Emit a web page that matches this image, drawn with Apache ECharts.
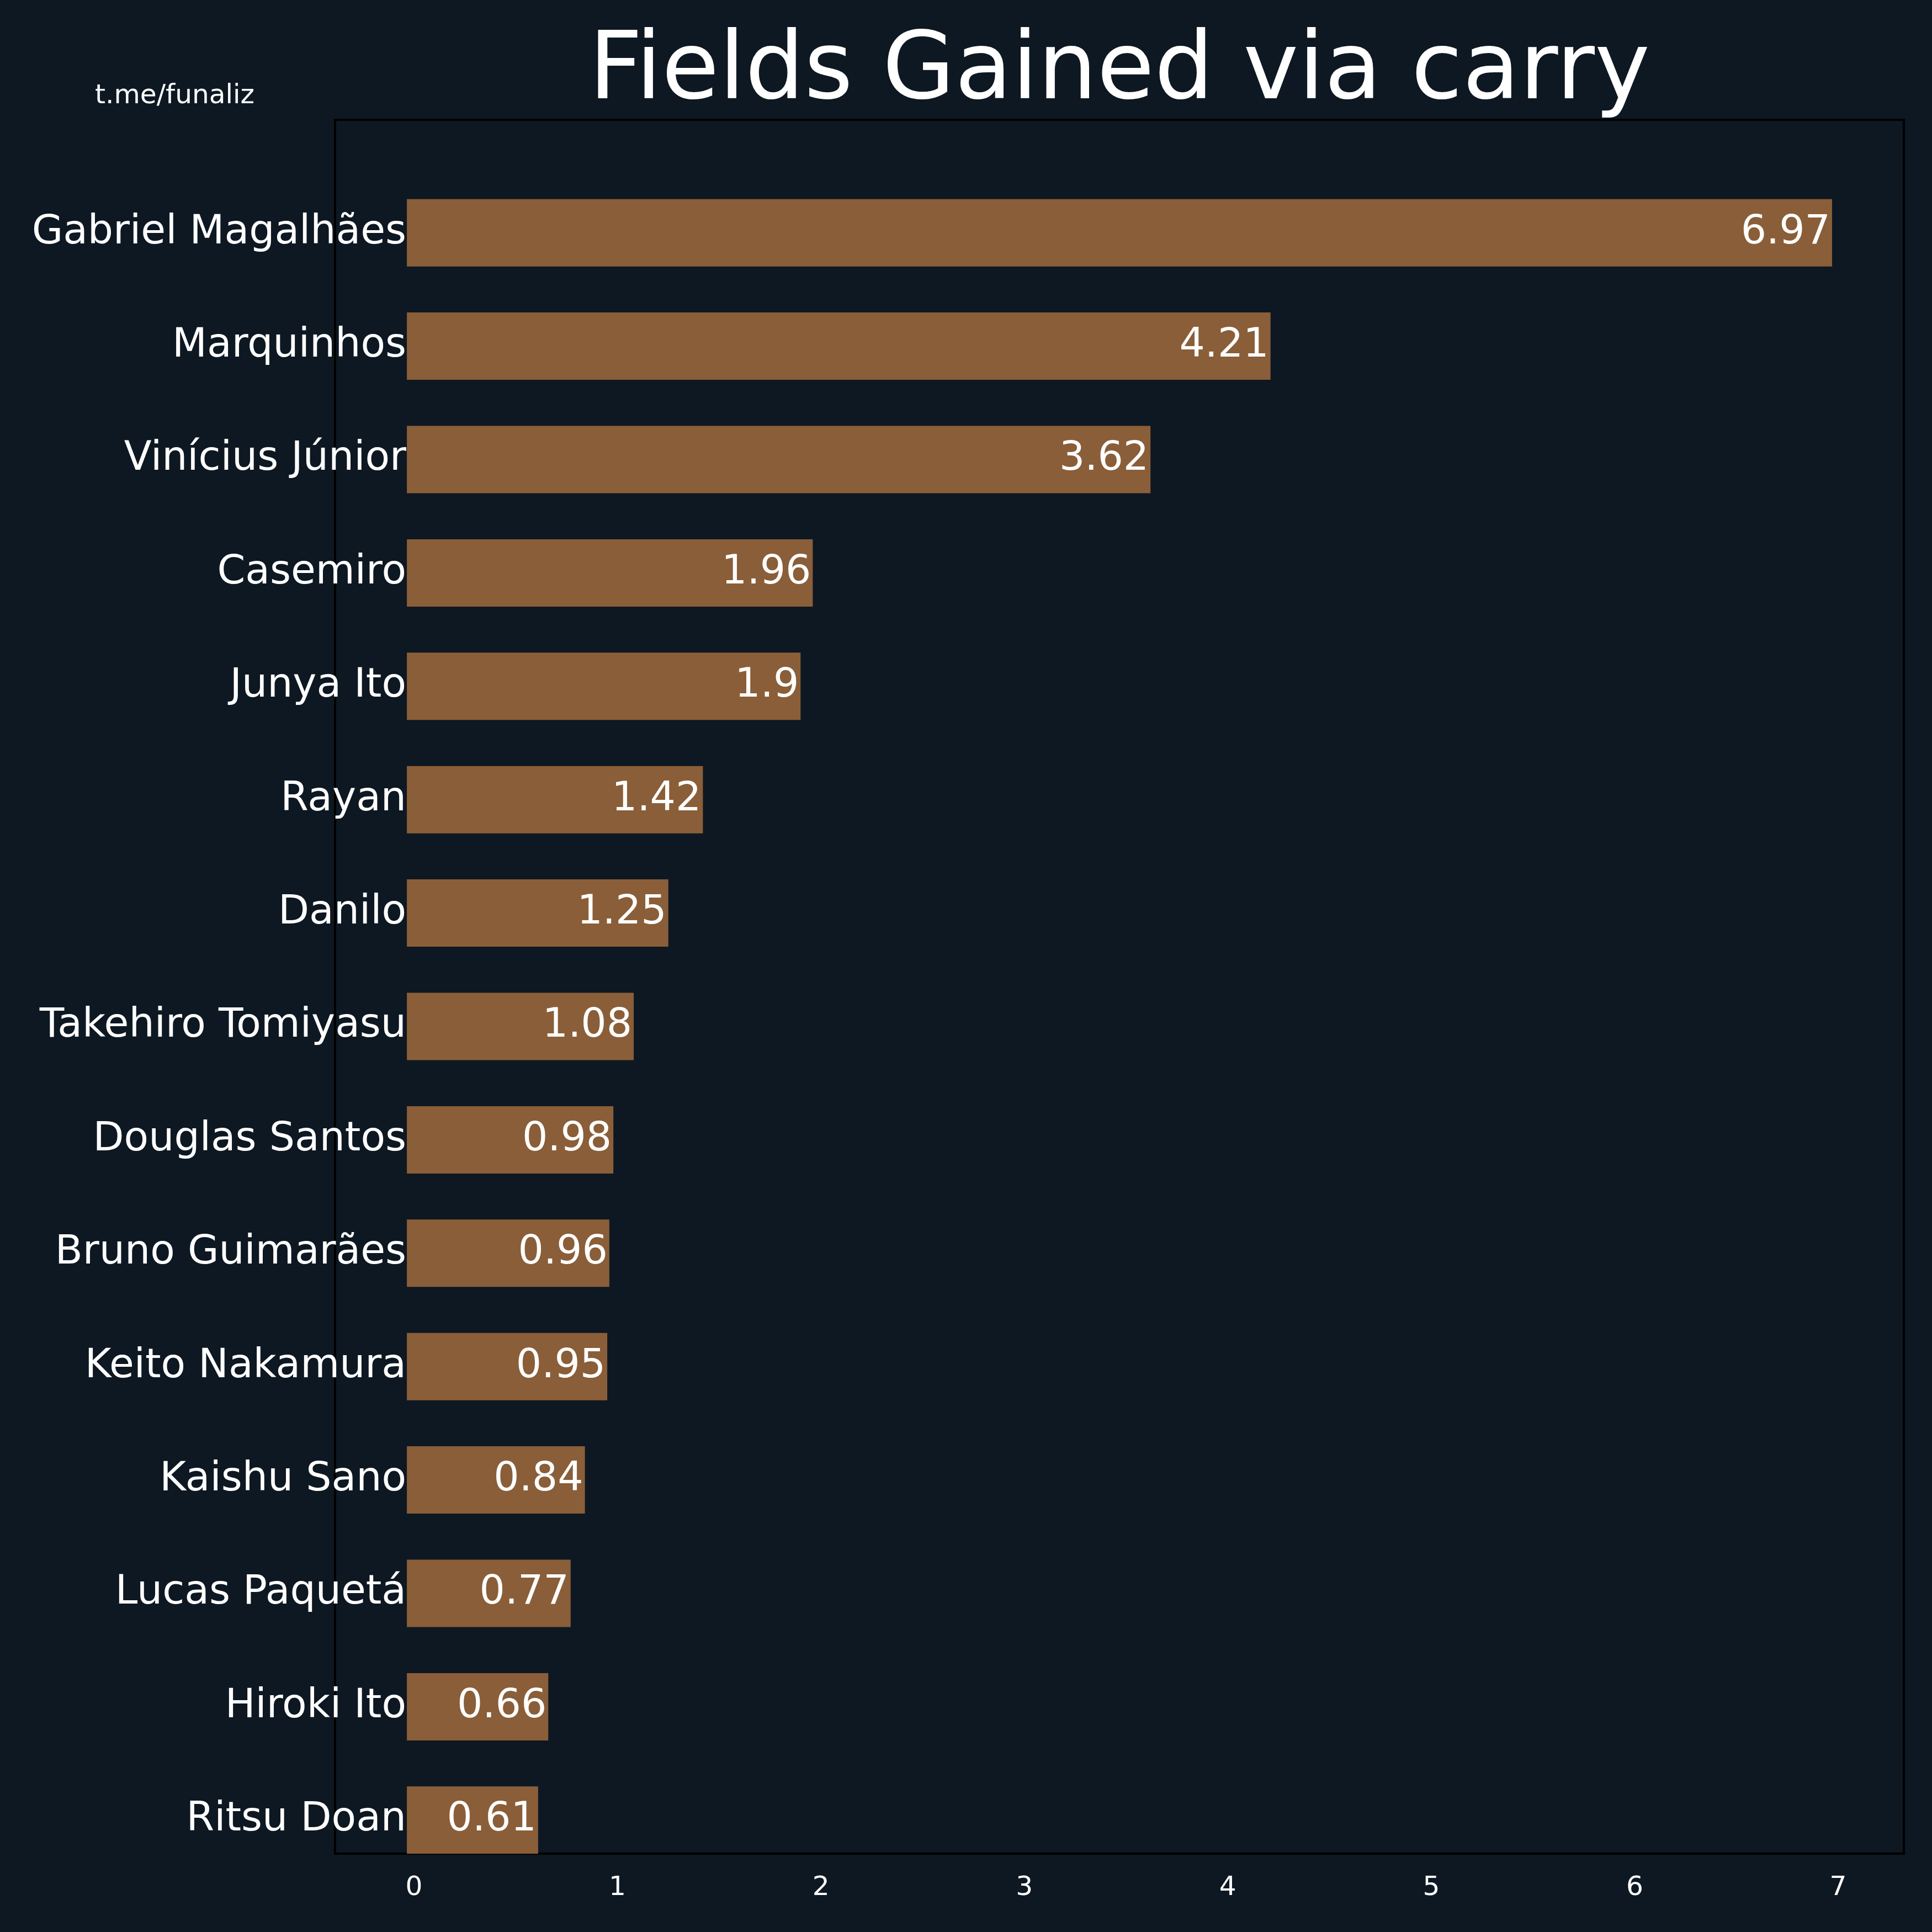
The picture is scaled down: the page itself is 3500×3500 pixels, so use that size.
<!DOCTYPE html>
<html>
<head>
<meta charset="utf-8">
<script src="https://cdn.jsdelivr.net/npm/echarts@6/dist/echarts.min.js"></script>
<style>html,body{margin:0;padding:0;background:#0e1822;}#c{width:3500px;height:3500px;}</style>
</head>
<body>
<div id="c"></div>
<script>
const players = ["Gabriel Magalhães","Marquinhos","Vinícius Júnior","Casemiro","Junya Ito","Rayan","Danilo","Takehiro Tomiyasu","Douglas Santos","Bruno Guimarães","Keito Nakamura","Kaishu Sano","Lucas Paquetá","Hiroki Ito","Ritsu Doan"];
const fieldsGained = [6.97,4.21,3.62,1.96,1.9,1.42,1.25,1.08,0.98,0.96,0.95,0.84,0.77,0.66,0.61];
const xTicks = [0,1,2,3,4,5,6,7];
const titleText = "Fields Gained via carry";
const creditText = "t.me/funaliz";

const FONT = "DejaVu Sans";
const BAR_COLOR = '#8a5e38';
const BAR_BASE = -0.035;   // bars in the original start slightly left of zero
const BAR_RATIO = 0.594;   // bar thickness as share of the category band

const chart = echarts.init(document.getElementById('c'), null, {renderer:'canvas'});
chart.setOption({
  backgroundColor: '#0e1822',
  animation: false,
  grid: [
    {left: 750, right: 170, top: 319, bottom: 100, show: false},
    {left: 607, right: 51, top: 217, bottom: 142, show: true, borderColor: '#000000', borderWidth: 4, backgroundColor: 'transparent'}
  ],
  xAxis: [
    {gridIndex: 0, type: 'value', min: xTicks[0], max: xTicks[xTicks.length-1], interval: 1,
      axisLine: {show: false}, axisTick: {show: false}, splitLine: {show: false},
      axisLabel: {color: '#ffffff', fontFamily: FONT, fontSize: 48.6, margin: 20, verticalAlign: 'middle'}},
    {gridIndex: 1, type: 'value', min: 0, max: 1, show: false}
  ],
  yAxis: [
    {gridIndex: 0, type: 'category', data: players, inverse: true,
      axisLine: {show: false}, axisTick: {show: false}, splitLine: {show: false},
      axisLabel: {color: '#ffffff', fontFamily: FONT, fontSize: 72.9, margin: 14, verticalAlign: 'middle'}},
    {gridIndex: 1, type: 'value', min: 0, max: 1, show: false}
  ],
  series: [{
    type: 'custom',
    xAxisIndex: 0, yAxisIndex: 0,
    clip: false,
    data: fieldsGained.map((v, i) => [v, i]),
    encode: {x: 0, y: 1},
    renderItem: function (params, api) {
      const val = api.value(0);
      const cat = api.value(1);
      const start = api.coord([BAR_BASE, cat]);
      const end = api.coord([val, cat]);
      const h = api.size([0, 1])[1] * BAR_RATIO;
      return {
        type: 'rect',
        shape: {x: start[0], y: start[1] - h / 2, width: end[0] - start[0], height: h},
        style: {fill: BAR_COLOR},
        textContent: {style: {text: String(fieldsGained[params.dataIndex]), fill: '#ffffff', font: '72.9px "DejaVu Sans"'}},
        textConfig: {position: 'insideRight', distance: 3}
      };
    }
  }],
  graphic: [
    {type: 'text', x: 2028, y: 134, style: {text: titleText, fill: '#ffffff', font: '169px "DejaVu Sans"', align: 'center', verticalAlign: 'middle'}},
    {type: 'text', x: 172, y: 174, style: {text: creditText, fill: '#ffffff', font: '48.6px "DejaVu Sans"', align: 'left', verticalAlign: 'middle'}}
  ]
});
</script>
</body>
</html>
